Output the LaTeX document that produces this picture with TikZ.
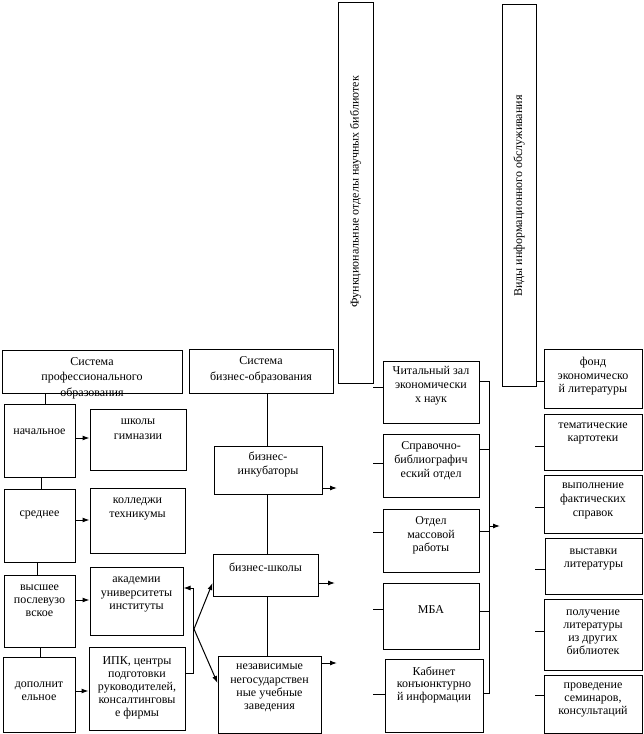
\documentclass[tikz,border=0pt]{standalone}
\usepackage{fontspec}
\setmainfont{Liberation Serif}
\usetikzlibrary{arrows.meta,fit}
\tikzset{
  bx/.style={draw, line width=1pt, inner sep=0pt, fill=none},
  tx/.style={align=center, inner sep=0pt},
  ln/.style={line width=1pt},
  arr/.style={line width=1pt, -{Latex[length=7pt,width=5pt]}},
}
\newcommand\mybox[5]{\node[bx, fit={(#2,#3) (#4,#5)}] (#1) {};}
\newcommand\mytext[5]{\node[tx, font=\fontsize{12}{#4}\selectfont] (#1) at (#2,#3) {#5};}
\begin{document}
\begin{tikzpicture}[x=1pt,y=-1pt]
\useasboundingbox (0,0) rectangle (643,734);
% boxes
\mybox{b1}{2}{350}{182}{393}
\mybox{b2}{189}{349}{333}{393}
\mybox{f1}{338}{2}{373}{383}
\mybox{f2}{502}{4}{536}{386}
\mybox{nach}{4}{404}{75}{477}
\mybox{shk}{90}{409}{186}{470}
\mybox{sred}{4}{489}{75}{562}
\mybox{koll}{90}{488}{185}{553}
\mybox{vys}{4}{575}{75}{647}
\mybox{akad}{90}{567}{183}{635}
\mybox{dop}{3}{657}{75}{732}
\mybox{ipk}{89}{647}{185}{730}
\mybox{binc}{214}{446}{322}{494}
\mybox{bshk}{213}{554}{318}{596}
\mybox{nez}{218}{656}{321}{733}
\mybox{chit}{383}{361}{479}{423}
\mybox{sprav}{383}{434}{479}{497}
\mybox{otdel}{383}{509}{479}{572}
\mybox{mba}{383}{583}{479}{649}
\mybox{kab}{385}{659}{483}{732}
\mybox{fond}{544}{349}{642}{408}
\mybox{tema}{544}{414}{642}{470}
\mybox{vyp}{544}{475}{642}{533}
\mybox{vyst}{545}{538}{642}{594}
\mybox{polu}{544}{599}{642}{670}
\mybox{prov}{544}{675}{642}{733}
% texts
\mytext{b1t}{92}{378}{15.5}{Система\\профессионального\\образования}
\mytext{b2t}{261}{370}{16}{Система\\бизнес-образования}
\node[tx, rotate=90, font=\fontsize{12}{14}\selectfont] (f1t) at (355.5,192) {Функциональные отделы научных библиотек};
\node[tx, rotate=90, font=\fontsize{12}{14}\selectfont] (f2t) at (519,196) {Виды информационного обслуживания};
\mytext{nacht}{39.5}{432}{14}{начальное}
\mytext{shkt}{138}{429.5}{15}{школы\\гимназии}
\mytext{sredt}{39.5}{515}{14}{среднее}
\mytext{kollt}{137.5}{509}{14}{колледжи\\техникумы}
\mytext{vyst1}{39.5}{601}{13}{высшее\\послевузо\\вское}
\mytext{akadt}{136.5}{594.5}{13.5}{академии\\университеты\\институты}
\mytext{dopt}{39}{691}{12.5}{дополнит\\ельное}
\mytext{ipkt}{137}{688}{13}{ИПК, центры\\подготовки\\руководителей,\\консалтинговы\\е фирмы}
\mytext{binct}{268}{464}{14}{бизнес-\\инкубаторы}
\mytext{bshkt}{265.5}{567}{14}{бизнес-школы}
\mytext{nezt}{269.5}{688}{13.3}{независимые\\негосударствен\\ные учебные\\заведения}
\mytext{chitt}{431}{386}{14}{Читальный зал\\экономически\\х наук}
\mytext{spravt}{431}{461}{14}{Справочно-\\библиографич\\еский отдел}
\mytext{otdelt}{431}{535.5}{13.5}{Отдел\\массовой\\работы}
\mytext{mbat}{431}{610}{14}{МБА}
\mytext{kabt}{434}{684.5}{12.5}{Кабинет\\конъюнктурно\\й информации}
\mytext{fondt}{593}{376.5}{13.5}{фонд\\экономическо\\й литературы}
\mytext{temat}{593}{433.5}{13}{тематические\\картотеки}
\mytext{vypt}{593}{501}{14}{выполнение\\фактических\\справок}
\mytext{vystt}{593.5}{559.5}{13}{выставки\\литературы}
\mytext{polut}{593}{632.5}{13}{получение\\литературы\\из других\\библиотек}
\mytext{provt}{593}{700}{13}{проведение\\семинаров,\\консультаций}
% left column connectors
\draw[ln] (45,0 |- b1.south) -- (45,0 |- nach.north);
\draw[ln] (41,0 |- nach.south) -- (41,0 |- sred.north);
\draw[ln] (37,0 |- sred.south) -- (37,0 |- vys.north);
\draw[ln] (40,0 |- vys.south) -- (40,0 |- dop.north);
\draw[arr] (nach.east |- 0,438) -- (shk.west |- 0,438);
\draw[arr] (sred.east |- 0,520) -- (koll.west |- 0,520);
\draw[arr] (vys.east |- 0,600) -- (akad.west |- 0,600);
\draw[arr] (dop.east |- 0,691) -- (ipk.west |- 0,691);
\draw[arr] (ipk.east |- 0,673) -- (193,673) -- (193,588) -- (akad.east |- 0,588);
\coordinate (br) at (194,629);
\draw[arr] (br) -- (bshk.west |- 0,583);
\draw[arr] (br) -- (nez.west |- 0,683);
% business column
\draw[ln] (267,0 |- b2.south) -- (267,0 |- binc.north);
\draw[ln] (267,0 |- binc.south) -- (267,0 |- bshk.north);
\draw[ln] (267,0 |- bshk.south) -- (267,0 |- nez.north);
\coordinate (e1) at (337,488);
\coordinate (e2) at (335,583);
\coordinate (e3) at (337,663);
\draw[arr] (binc.east |- e1) -- (e1);
\draw[arr] (bshk.east |- e2) -- (e2);
\draw[arr] (nez.east |- e3) -- (e3);
% library column
\coordinate (l1) at (373,387);
\coordinate (l2) at (373,463);
\coordinate (l3) at (373,532);
\coordinate (l4) at (373,609);
\coordinate (l5) at (373,694);
\draw[ln] (l1) -- (chit.west |- l1);
\draw[ln] (l2) -- (sprav.west |- l2);
\draw[ln] (l3) -- (otdel.west |- l3);
\draw[ln] (l4) -- (mba.west |- l4);
\draw[ln] (l5) -- (kab.west |- l5);
\coordinate (busT) at (489,381);
\coordinate (busB) at (489,693);
\draw[ln] (chit.east |- busT) -- (busT) -- (busB) -- (kab.east |- busB);
\draw[ln] (sprav.east |- 0,449) -- (489,449);
\draw[ln] (otdel.east |- 0,531) -- (489,531);
\draw[ln] (mba.east |- 0,611) -- (489,611);
\coordinate (bus) at (489,526);
\coordinate (busE) at (500,526);
\draw[arr] (bus) -- (busE);
% right column
\coordinate (r1) at (536,381);
\coordinate (r2) at (535,446);
\coordinate (r3) at (535,507);
\coordinate (r4) at (535,569);
\coordinate (r5) at (535,631);
\coordinate (r6) at (535,695);
\draw[ln] (r1) -- (fond.west |- r1);
\draw[ln] (r2) -- (tema.west |- r2);
\draw[ln] (r3) -- (vyp.west |- r3);
\draw[ln] (r4) -- (vyst.west |- r4);
\draw[ln] (r5) -- (polu.west |- r5);
\draw[ln] (r6) -- (prov.west |- r6);
\end{tikzpicture}
\end{document}
